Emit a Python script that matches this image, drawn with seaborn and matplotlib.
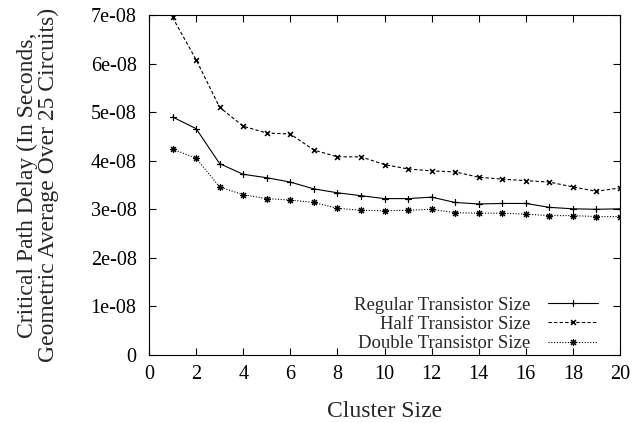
import matplotlib
matplotlib.use("Agg")
import matplotlib.pyplot as plt
import seaborn as sns
import numpy as np
from matplotlib.ticker import FixedLocator

cluster_size = list(range(1, 21))
regular = [4.90, 4.66, 3.94, 3.72, 3.65, 3.56, 3.42, 3.34, 3.28, 3.22,
           3.22, 3.25, 3.14, 3.11, 3.12, 3.12, 3.04, 3.01, 3.00, 3.01]
half = [6.95, 6.08, 5.10, 4.71, 4.57, 4.55, 4.22, 4.08, 4.08, 3.92,
        3.83, 3.79, 3.77, 3.66, 3.62, 3.59, 3.56, 3.46, 3.37, 3.44]
double = [4.24, 4.05, 3.46, 3.30, 3.22, 3.19, 3.14, 3.02, 2.98, 2.97,
          2.98, 3.00, 2.93, 2.92, 2.92, 2.90, 2.87, 2.87, 2.85, 2.85]
scale = 1e-8
series_labels = ["Regular Transistor Size", "Half Transistor Size", "Double Transistor Size"]
x_ticks = list(range(0, 21, 2))
y_ticks = [0, 1e-8, 2e-8, 3e-8, 4e-8, 5e-8, 6e-8, 7e-8]
y_tick_labels = ["0", "1e-08", "2e-08", "3e-08", "4e-08", "5e-08", "6e-08", "7e-08"]

sns.set_style("ticks")
plt.rcParams['font.family'] = ['Liberation Serif', 'DejaVu Serif']

fig = plt.figure(figsize=(6.32, 4.23), dpi=100)
ax = fig.add_axes([149/632, 1-355/423, (620-149)/632, (355-15)/423])

styles = [
    dict(linestyle='-', marker=(4, 2, 0)),
    dict(linestyle=(0, (3, 2)), marker=(4, 2, 45)),
    dict(linestyle=(0, (1, 1.5)), marker=(8, 2, 0)),
]
for vals, lab, st in zip([regular, half, double], series_labels, styles):
    sns.lineplot(x=cluster_size, y=np.array(vals) * scale, ax=ax, color='black',
                 linewidth=0.8, markersize=5, markeredgewidth=0.8,
                 markeredgecolor='black', markerfacecolor='black',
                 label=lab, **st)

ax.set_xlim(0, 20)
ax.set_ylim(0, 7e-8)
ax.xaxis.set_major_locator(FixedLocator(x_ticks))
ax.yaxis.set_major_locator(FixedLocator(y_ticks))
ax.set_yticklabels(y_tick_labels)
ax.tick_params(direction='in', top=True, right=True, length=5, width=0.8,
               labelsize=14.5, colors='black')
ax.tick_params(axis='y', pad=9)
ax.tick_params(axis='x', pad=7)
for s in ax.spines.values():
    s.set_linewidth(0.8)
    s.set_color('black')

ax.set_xlabel("Cluster Size", fontsize=17)
ax.xaxis.set_label_coords(0.501, -0.136)
ax.set_ylabel("Critical Path Delay (In Seconds,\nGeometric Average Over 25 Circuits)",
              fontsize=17, linespacing=0.95)
ax.yaxis.set_label_coords(-0.192, 0.50)

leg = ax.legend(loc='lower right', frameon=False, markerfirst=False, fontsize=13.5,
                handlelength=2.67, handletextpad=0.96, labelspacing=0.12,
                borderpad=0, borderaxespad=0,
                bbox_to_anchor=((598-149)/471, 0.008))

fig.savefig("out.png", dpi=100)
